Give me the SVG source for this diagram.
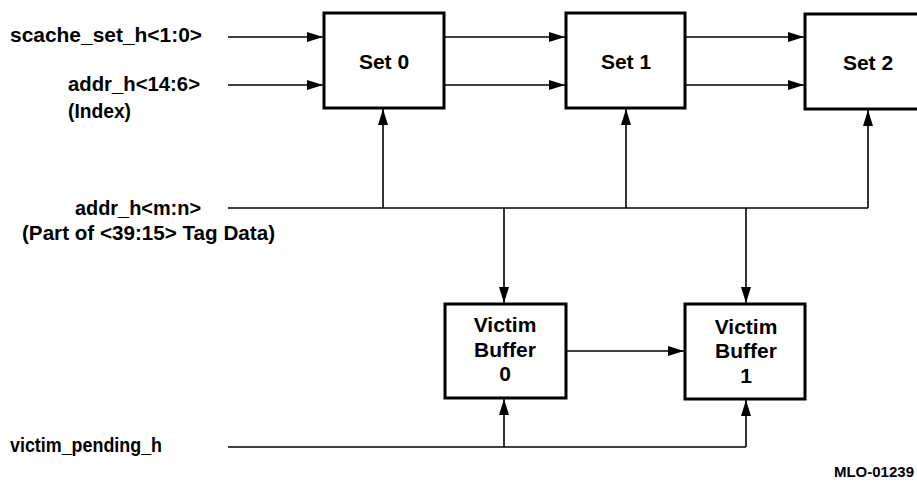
<svg xmlns="http://www.w3.org/2000/svg" width="917" height="483" viewBox="0 0 917 483">
<style>
  .box{fill:#fff;stroke:#000;stroke-width:3}
  .wire{fill:none;stroke:#000;stroke-width:1.6}
  .lbl{font-family:"Liberation Sans",Arial,Helvetica,sans-serif;font-weight:bold;font-size:20px;fill:#000}
  .nt{font-family:"Liberation Sans",Arial,Helvetica,sans-serif;font-weight:bold;font-size:21px;fill:#000;text-anchor:middle}
  .id{font-family:"Liberation Sans",Arial,Helvetica,sans-serif;font-weight:bold;font-size:15px;fill:#000;text-anchor:end}
</style>
<defs>
  <marker id="arr" markerUnits="userSpaceOnUse" markerWidth="17" markerHeight="11" refX="16" refY="5.5" orient="auto">
    <path d="M0,0.5 L16,5.5 L0,10.5 Z" fill="#000"/>
  </marker>
</defs>
<rect width="917" height="483" fill="#fff"/>

<g id="connectors">
  <path class="wire" d="M228,37 H323" marker-end="url(#arr)"/>
  <path class="wire" d="M228,85 H323" marker-end="url(#arr)"/>
  <path class="wire" d="M445,37 H565" marker-end="url(#arr)"/>
  <path class="wire" d="M445,85 H565" marker-end="url(#arr)"/>
  <path class="wire" d="M686,37 H804" marker-end="url(#arr)"/>
  <path class="wire" d="M686,85 H804" marker-end="url(#arr)"/>
  <path class="wire" d="M228,208 H868"/>
  <path class="wire" d="M383,208 V109" marker-end="url(#arr)"/>
  <path class="wire" d="M626,208 V109" marker-end="url(#arr)"/>
  <path class="wire" d="M868,208 V110" marker-end="url(#arr)"/>
  <path class="wire" d="M504,208 V303" marker-end="url(#arr)"/>
  <path class="wire" d="M746,208 V303" marker-end="url(#arr)"/>
  <path class="wire" d="M567,351 H684" marker-end="url(#arr)"/>
  <path class="wire" d="M228,447 H746"/>
  <path class="wire" d="M504,447 V399" marker-end="url(#arr)"/>
  <path class="wire" d="M746,447 V400" marker-end="url(#arr)"/>
</g>

<g id="set0">
  <rect class="box" x="324" y="13" width="120" height="95"/>
  <text class="nt" x="384" y="69">Set 0</text>
</g>
<g id="set1">
  <rect class="box" x="566" y="13" width="119" height="95"/>
  <text class="nt" x="626" y="69">Set 1</text>
</g>
<g id="set2">
  <rect class="box" x="805" y="14" width="140" height="95"/>
  <text class="nt" x="868" y="70">Set 2</text>
</g>
<g id="vb0">
  <rect class="box" x="445" y="304" width="121" height="94"/>
  <text class="nt" x="505" y="332">Victim</text>
  <text class="nt" x="505" y="357">Buffer</text>
  <text class="nt" x="505" y="381">0</text>
</g>
<g id="vb1">
  <rect class="box" x="685" y="304" width="120" height="95"/>
  <text class="nt" x="746" y="334">Victim</text>
  <text class="nt" x="746" y="358">Buffer</text>
  <text class="nt" x="746" y="383">1</text>
</g>

<g id="labels">
  <text class="lbl" x="10" y="42" textLength="192" lengthAdjust="spacingAndGlyphs">scache_set_h&lt;1:0&gt;</text>
  <text class="lbl" x="68" y="91" textLength="132" lengthAdjust="spacingAndGlyphs">addr_h&lt;14:6&gt;</text>
  <text class="lbl" x="68" y="118" textLength="63" lengthAdjust="spacingAndGlyphs">(Index)</text>
  <text class="lbl" x="75" y="215" textLength="126" lengthAdjust="spacingAndGlyphs">addr_h&lt;m:n&gt;</text>
  <text class="lbl" x="22" y="240" textLength="253" lengthAdjust="spacingAndGlyphs">(Part of &lt;39:15&gt; Tag Data)</text>
  <text class="lbl" x="10" y="452" textLength="152" lengthAdjust="spacingAndGlyphs">victim_pending_h</text>
  <text class="id" x="914" y="477">MLO-01239</text>
</g>
</svg>
